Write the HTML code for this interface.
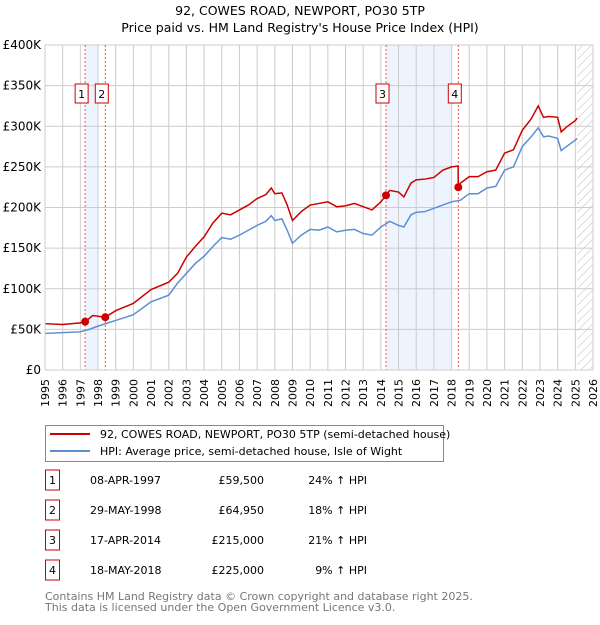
<!DOCTYPE html>
<html><head><meta charset="utf-8">
<style>
body{margin:0;background:#fff;font-family:"Liberation Sans","DejaVu Sans",sans-serif;}
svg text{font-family:"DejaVu Sans","Liberation Sans",sans-serif;}
</style></head>
<body>
<svg id="chart" width="600" height="620" xmlns="http://www.w3.org/2000/svg">
<text x="300" y="15" text-anchor="middle" font-size="12.5" fill="#000">92, COWES ROAD, NEWPORT, PO30 5TP</text>
<text x="300" y="32" text-anchor="middle" font-size="12.5" fill="#000">Price paid vs. HM Land Registry's House Price Index (HPI)</text>
<g id="plot"></g>
<g>
<rect x="45.5" y="425.5" width="398" height="36" fill="#fff" stroke="#888"/>
<line x1="50" y1="434" x2="90" y2="434" stroke="#cc0000" stroke-width="2"/>
<text x="100" y="438" font-size="11">92, COWES ROAD, NEWPORT, PO30 5TP (semi-detached house)</text>
<line x1="50" y1="451" x2="90" y2="451" stroke="#5b8fd4" stroke-width="2"/>
<text x="100" y="455" font-size="11">HPI: Average price, semi-detached house, Isle of Wight</text>
</g>
<g id="table"></g>
<text x="45" y="600" font-size="11" fill="#777">Contains HM Land Registry data © Crown copyright and database right 2025.</text>
<text x="45" y="611" font-size="11" fill="#777">This data is licensed under the Open Government Licence v3.0.</text>
</svg>
<script>
const hpiYears=[1995,1996,1997,1997.5,1998,1999,2000,2001,2002,2002.5,2003,2003.5,2004,2004.5,2005,2005.5,2006,2006.5,2007,2007.5,2007.8,2008,2008.4,2008.7,2009,2009.5,2010,2010.5,2011,2011.5,2012,2012.5,2013,2013.5,2014,2014.5,2015,2015.3,2015.7,2016,2016.5,2017,2017.5,2018,2018.5,2019,2019.5,2020,2020.5,2021,2021.5,2022,2022.5,2022.9,2023.2,2023.5,2024,2024.2,2024.5,2025,2025.1];
const hpiValues=[45,46,47,50,54,61,68,84,92,107,119,131,140,152,163,161,166,172,178,183,190,184,186,172,156,166,173,172,176,170,172,173,168,166,176,183,178,176,191,194,195,199,203,207,209,217,217,224,226,246,250,275,287,298,287,288,285,270,275,283,285];
const priceYears=[1995,1996,1997,1997.27,1997.7,1998.41,1999,2000,2001,2002,2002.5,2003,2003.5,2004,2004.5,2005,2005.5,2006,2006.5,2007,2007.5,2007.8,2008,2008.4,2008.7,2009,2009.5,2010,2010.5,2011,2011.5,2012,2012.5,2013,2013.5,2014,2014.29,2014.5,2015,2015.3,2015.7,2016,2016.5,2017,2017.5,2018,2018.37,2018.38,2018.5,2019,2019.5,2020,2020.5,2021,2021.5,2022,2022.5,2022.9,2023.2,2023.5,2024,2024.2,2024.5,2025,2025.1];
const priceValues=[57,56,58,59.5,67,65,73,82,99,108,119,139,152,164,181,193,191,197,203,211,216,224,217,218,203,184,195,203,205,207,201,202,205,201,197,207,215,221,219,213,230,234,235,237,246,250,251,225,230,238,238,244,246,267,271,295,309,325,311,312,311,293,299,307,310];
const saleNums=["1","2","3","4"];
const saleYears=[1997.27,1998.41,2014.29,2018.38];
const saleValues=[59.5,64.95,215,225];
const saleDates=["08-APR-1997","29-MAY-1998","17-APR-2014","18-MAY-2018"];
const salePrices=["£59,500","£64,950","£215,000","£225,000"];
const saleHpi=["24% ↑ HPI","18% ↑ HPI","21% ↑ HPI","9% ↑ HPI"];
const spanStarts=[1997.27,2014.29];
const spanEnds=[1998.0,2018.0];
const yTicks=[0,50,100,150,200,250,300,350,400];
const yTickLabels=["£0","£50K","£100K","£150K","£200K","£250K","£300K","£350K","£400K"];
const xTicks=[1995,1996,1997,1998,1999,2000,2001,2002,2003,2004,2005,2006,2007,2008,2009,2010,2011,2012,2013,2014,2015,2016,2017,2018,2019,2020,2021,2022,2023,2024,2025,2026];

const L=45,R=593,T=45,B=370;
const x=y=>L+(y-1995)*(R-L)/31;
const yv=v=>B-v*(B-T)/400;
const NS="http://www.w3.org/2000/svg";
const plot=document.getElementById('plot');
function mk(tag,attrs,parent){const e=document.createElementNS(NS,tag);for(const k in attrs)e.setAttribute(k,attrs[k]);(parent||plot).appendChild(e);return e;}

spanStarts.forEach((s,i)=>{
  const r=mk('rect',{x:x(s),y:T,width:x(spanEnds[i])-x(s),height:B-T,fill:'#eef4fd'});
  
  
});
const defs=mk('defs',{});
const pat=mk('pattern',{id:'hatch',width:6,height:6,patternUnits:'userSpaceOnUse',patternTransform:'rotate(45)'},defs);
mk('line',{x1:0,y1:0,x2:0,y2:6,stroke:'#bbb','stroke-width':1},pat);
const hr=mk('rect',{x:x(2025.1),y:T,width:R-x(2025.1),height:B-T,fill:'url(#hatch)'});



xTicks.forEach(t=>{
  const l=mk('line',{x1:x(t),y1:T,x2:x(t),y2:B,stroke:'#ccc','stroke-width':1});
  
  
  const tx=mk('text',{x:0,y:0,'font-size':11,'text-anchor':'end',transform:`translate(${x(t)+4},379) rotate(-90)`});
  tx.textContent=t;
  
  
});
yTicks.forEach((t,i)=>{
  const l=mk('line',{x1:L,y1:yv(t),x2:R,y2:yv(t),stroke:'#ccc','stroke-width':1});
  
  
  const tx=mk('text',{x:41,y:yv(t)+4,'font-size':12,'text-anchor':'end'});
  tx.textContent=yTickLabels[i];
  
  
});
saleYears.forEach(s=>{
  const l=mk('line',{x1:x(s),y1:T,x2:x(s),y2:B,stroke:'#e55','stroke-width':1,'stroke-dasharray':'2,2'});
  
  
});
const hp=mk('polyline',{points:hpiYears.map((t,i)=>x(t)+','+yv(hpiValues[i])).join(' '),fill:'none',stroke:'#5b8fd4','stroke-width':1.5});


const pp=mk('polyline',{points:priceYears.map((t,i)=>x(t)+','+yv(priceValues[i])).join(' '),fill:'none',stroke:'#cc0000','stroke-width':1.5});


saleYears.forEach((s,i)=>{
  const c=mk('circle',{cx:x(s),cy:yv(saleValues[i]),r:4,fill:'#cc0000'});
  
  
  const g=mk('g',{});
  
  
  mk('rect',{x:x(s)-10,y:84,width:13,height:19,fill:'#fff',stroke:'#cc0000'},g);
  const t=mk('text',{x:x(s)-3.5,y:98,'font-size':11,'text-anchor':'middle'},g);
  t.textContent=saleNums[i];
});
mk('line',{x1:L,y1:T,x2:L,y2:B,stroke:'#ccc'});
mk('line',{x1:L,y1:B,x2:R,y2:B,stroke:'#ccc'});

const tb=document.getElementById('table');
saleNums.forEach((n,i)=>{
  const yy=483+i*30;
  const g=mk('g',{},tb);
  
  
  mk('rect',{x:45.5,y:yy-13,width:14,height:20,fill:'#fff',stroke:'#cc0000'},g);
  const a=mk('text',{x:52.5,y:yy+1,'font-size':11,'text-anchor':'middle'},g);a.textContent=n;
  const b=mk('text',{x:90,y:yy+1,'font-size':11},g);b.textContent=saleDates[i];
  const c=mk('text',{x:264,y:yy+1,'font-size':11,'text-anchor':'end'},g);c.textContent=salePrices[i];
  const d=mk('text',{x:367,y:yy+1,'font-size':11,'text-anchor':'end'},g);d.textContent=saleHpi[i];
});
</script>
</body></html>
